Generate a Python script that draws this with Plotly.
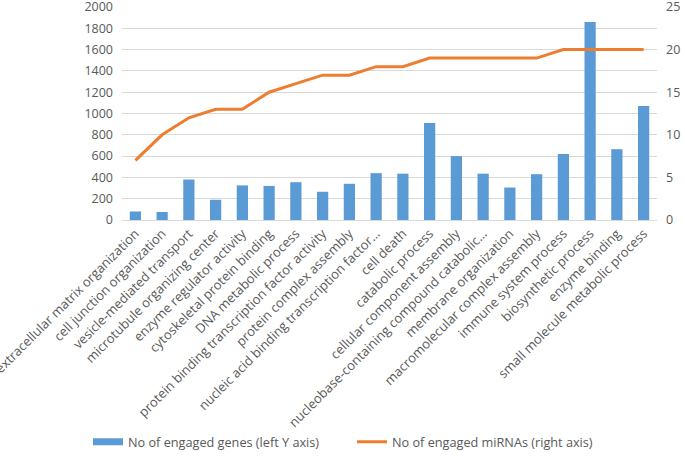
import plotly.graph_objects as go

categories = [
    "extracellular matrix organization",
    "cell junction organization",
    "vesicle-mediated transport",
    "microtubule organizing center",
    "enzyme regulator activity",
    "cytoskeletal protein binding",
    "DNA metabolic process",
    "protein binding transcription factor activity",
    "protein complex assembly",
    "nucleic acid binding transcription factor…",
    "cell death",
    "catabolic process",
    "cellular component assembly",
    "nucleobase-containing compound catabolic…",
    "membrane organization",
    "macromolecular complex assembly",
    "immune system process",
    "biosynthetic process",
    "enzyme binding",
    "small molecule metabolic process",
]
genes = [80, 75, 380, 190, 325, 320, 355, 265, 340, 440, 435, 910, 600, 435, 305, 430, 620, 1860, 665, 1070]
mirnas = [7, 10, 12, 13, 13, 15, 16, 17, 17, 18, 18, 19, 19, 19, 19, 19, 20, 20, 20, 20]

left_ticks = list(range(0, 2001, 200))
right_ticks = list(range(0, 26, 5))

font_family = "Open Sans, Liberation Sans, sans-serif"
grey = "#595959"
blue = "#5B9BD5"
orange = "#ED7D31"

fig = go.Figure()
fig.add_trace(go.Bar(
    x=categories, y=genes, name="No of engaged genes (left Y axis)",
    marker=dict(color=blue, line=dict(width=0)), yaxis="y", showlegend=False,
))
# legend-only entry drawn as a wide flat swatch (like the original legend key)
fig.add_trace(go.Scatter(
    x=[None], y=[None], name="No of engaged genes (left Y axis)",
    mode="lines", line=dict(color=blue, width=7), yaxis="y", legend="legend",
    hoverinfo="skip",
))
fig.add_trace(go.Scatter(
    x=categories, y=mirnas, name="No of engaged miRNAs (right axis)",
    mode="lines", line=dict(color=orange, width=3), yaxis="y2", legend="legend2",
))

legend_common = dict(orientation="h", xref="container", yref="container",
                     xanchor="left", yanchor="middle",
                     font=dict(size=12.7, color=grey), itemwidth=30,
                     bgcolor="rgba(0,0,0,0)")

fig.update_layout(
    width=685, height=457,
    margin=dict(l=122, r=28, t=7, b=237),
    paper_bgcolor="white", plot_bgcolor="white",
    font=dict(family=font_family, size=11, color=grey),
    bargap=0.58,
    showlegend=True,
    legend=dict(x=88 / 685, y=15 / 457, **legend_common),
    legend2=dict(x=352 / 685, y=15 / 457, **legend_common),
    xaxis=dict(tickangle=-45, showgrid=False, showline=True, linecolor="#D9D9D9",
               linewidth=1, ticks="", automargin=False,
               tickfont=dict(size=13, color=grey)),
    yaxis=dict(range=[0, 2000], tickvals=left_ticks, showgrid=True,
               gridcolor="#D9D9D9", gridwidth=1, zeroline=False, automargin=False,
               ticklabeloverflow="allow",
               ticks="", tickfont=dict(size=12.5, color=grey), ticklabelstandoff=8),
    yaxis2=dict(range=[0, 25], tickvals=right_ticks, overlaying="y", side="right",
                showgrid=False, zeroline=False, ticks="", automargin=False,
                ticklabeloverflow="allow",
                tickfont=dict(size=12.5, color=grey), ticklabelstandoff=8),
)

fig.write_html("out.html",
               config={"displayModeBar": False},
               post_script="document.body.style.margin='0';document.body.style.overflow='hidden';")
